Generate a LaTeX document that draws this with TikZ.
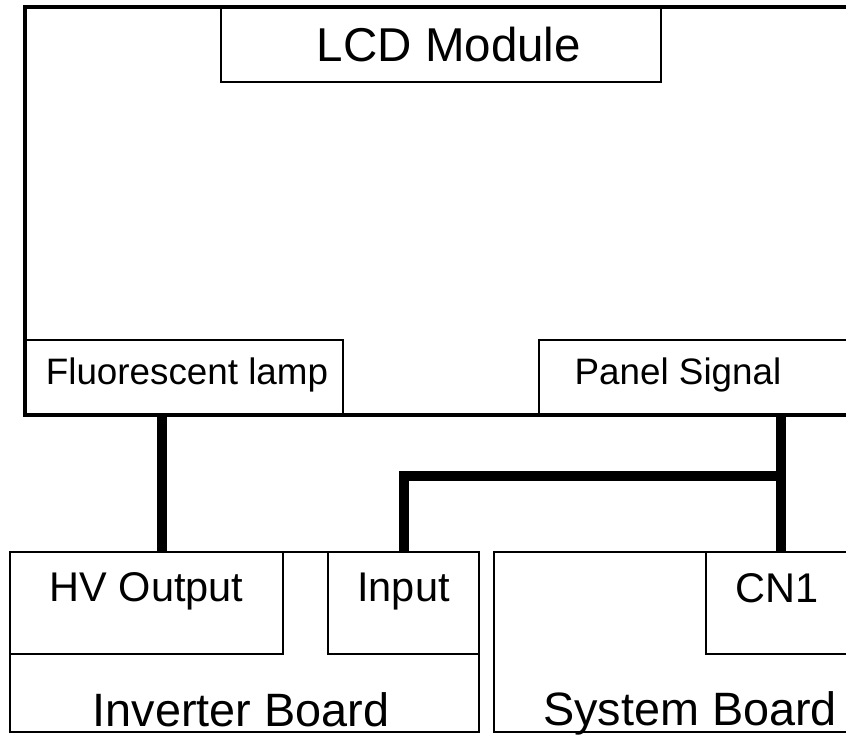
\documentclass[tikz,border=0pt]{standalone}
\usepackage{fontspec}
\setmainfont{Liberation Sans}
\usetikzlibrary{positioning}

\begin{document}
\begin{tikzpicture}[x=1pt, y=-1pt,
    box/.style={rectangle, draw, line width=1.5pt, inner sep=0pt, outer sep=0pt, anchor=north west},
    frame/.style={box, line width=4pt},
    wire/.style={line width=10pt},
    txt/.style={anchor=base, inner sep=0pt},
    huge/.style={txt, font=\fontsize{47.5pt}{50pt}\selectfont},
    board/.style={txt, font=\fontsize{46.8pt}{48pt}\selectfont},
    port/.style={txt, font=\fontsize{41.5pt}{43pt}\selectfont},
    small/.style={txt, font=\fontsize{36.8pt}{38pt}\selectfont},
  ]
  \useasboundingbox (0,0) rectangle (846,734);
  \clip (0,0) rectangle (846,734);
  % LCD side
  \node[box, minimum width=440pt, minimum height=75pt] (lcdlbl) at (221,7) {};
  \node[box, minimum width=318pt, minimum height=75pt] (fl) at (25,340) {};
  \node[box, minimum width=400pt, minimum height=75pt] (ps) at (539,340) {};
  \node[frame, minimum width=900pt, minimum height=408pt] (lcd) at (25,7) {};
  % boards
  \node[box, minimum width=469pt, minimum height=180pt] (inv) at (10,552) {};
  \node[box, minimum width=273pt, minimum height=102pt] (hv) at (10,552) {};
  \node[box, minimum width=151pt, minimum height=102pt] (inp) at (328,552) {};
  \node[box, minimum width=400pt, minimum height=180pt] (sys) at (494,552) {};
  \node[box, minimum width=200pt, minimum height=102pt] (cn) at (706,552) {};
  % labels
  \node[huge] (lcdtxt) at (449,61.7) {LCD Module};
  \node[small] (fltxt) at (187,384) {Fluorescent lamp};
  \node[small] (pstxt) at (678,384) {Panel Signal};
  \node[port] (hvtxt) at (146.5,601.7) {HV Output};
  \node[port] (inptxt) at (403.5,601.7) {Input};
  \node[port] (cntxt) at (777.5,602) {CN1};
  \node[board] (invtxt) at (241,726.5) {Inverter Board};
  \node[board] (systxt) at (690,725) {System Board};
  % cables
  \coordinate (lampx) at (162,0);
  \coordinate (jn) at (781,476);
  \draw[wire] (fl.south -| lampx) -- (hv.north -| lampx);
  \draw[wire] (ps.south -| jn) -- (cn.north -| jn);
  \draw[wire] (jn) -| (inp.north);
\end{tikzpicture}
\end{document}
